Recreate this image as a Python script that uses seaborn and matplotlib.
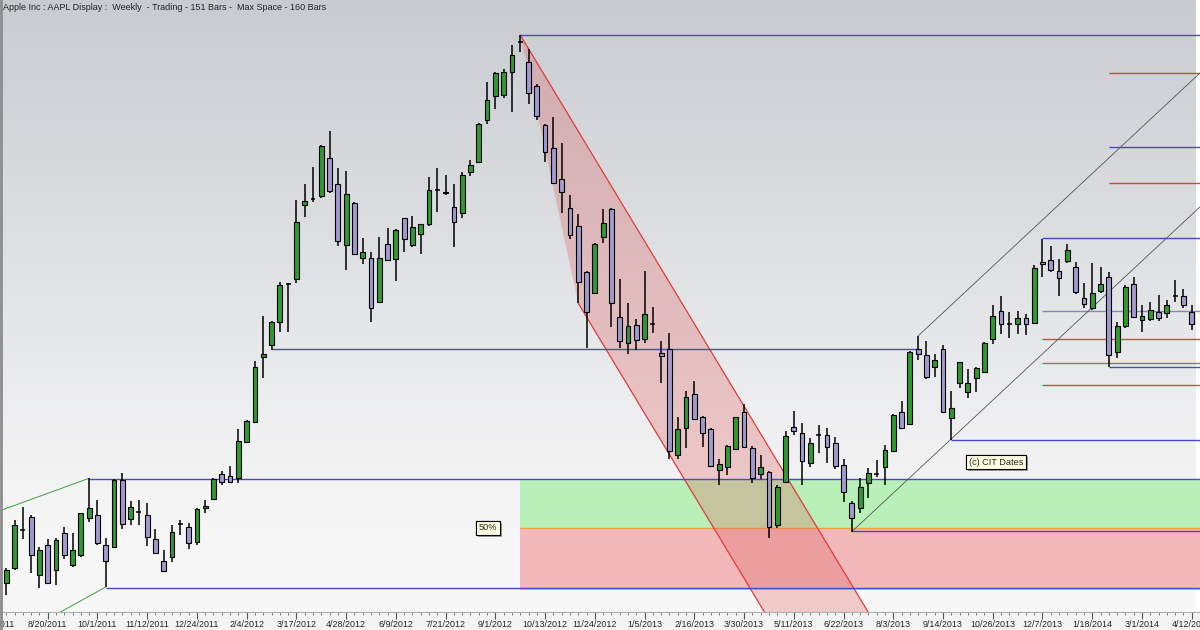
import numpy as np
import pandas as pd
import matplotlib
matplotlib.use("Agg")
import matplotlib.pyplot as plt
import matplotlib.patheffects as pe
import seaborn as sns

title = "Apple Inc : AAPL Display :  Weekly  - Trading - 151 Bars -  Max Space - 160 Bars"
first_week = pd.Timestamp("2011-07-16")

# weekly OHLC (approximate prices)
opens = [357.1, 366.5, 391.4, 399.3, 362.0, 381.2, 365.2, 389.1, 368.4, 374.8,
         398.3, 400.4, 381.2, 380.1, 422.8, 397.6, 402.5, 400.4, 385.0, 371.2,
         373.7, 394.4, 392.5, 383.3, 404.7, 410.6, 426.4, 425.4, 423.9, 447.3,
         459.7, 501.3, 509.2, 523.7, 548.2, 551.2, 598.8, 602.6, 604.8, 628.7,
         612.2, 573.2, 600.3, 564.7, 565.1, 536.9, 573.6, 564.2, 590.3, 573.2,
         580.0, 586.4, 608.4, 607.3, 597.7, 593.5, 620.1, 626.5, 653.2, 668.8,
         669.2, 684.1, 703.8, 690.1, 675.0, 650.0, 635.1, 615.2, 597.1, 585.6,
         556.1, 542.7, 578.5, 596.0, 526.9, 510.7, 522.0, 512.8, 523.1, 504.3,
         506.4, 438.8, 455.9, 477.8, 462.9, 455.2, 429.2, 431.3, 442.8, 466.1,
         443.5, 426.6, 427.9, 394.0, 421.7, 456.9, 453.1, 433.5, 451.6, 451.6,
         446.3, 432.4, 408.3, 404.7, 421.1, 426.6, 431.3, 441.4, 466.1, 458.4,
         506.4, 502.8, 495.3, 506.6, 462.7, 484.7, 478.9, 488.3, 491.7, 513.0,
         531.0, 522.8, 522.4, 526.7, 523.1, 562.1, 563.6, 556.6, 563.0, 559.3,
         539.5, 533.1, 543.8, 552.9, 504.5, 521.4, 548.0, 525.2, 525.8, 530.1,
         529.5, 540.1, 540.8, 530.1]
highs = [366.5, 397.2, 405.7, 400.4, 380.1, 385.0, 385.7, 392.7, 388.9, 401.9,
         423.9, 410.0, 385.7, 423.2, 427.5, 409.6, 410.0, 408.3, 391.4, 378.0,
         394.0, 397.2, 395.5, 405.1, 410.0, 423.9, 428.6, 432.0, 455.2, 461.2,
         499.2, 527.8, 524.6, 549.7, 549.1, 602.0, 612.0, 623.3, 637.2, 646.2,
         622.7, 620.6, 600.5, 577.9, 568.9, 578.5, 583.9, 583.4, 590.7, 592.0,
         586.8, 616.9, 622.3, 618.0, 612.0, 620.1, 627.6, 651.1, 677.7, 683.7,
         685.6, 701.2, 707.6, 698.6, 676.0, 650.4, 655.3, 638.3, 605.2, 592.8,
         556.6, 574.3, 596.0, 596.7, 551.2, 536.3, 525.6, 556.8, 533.3, 512.0,
         516.7, 463.3, 480.0, 486.2, 463.8, 455.9, 436.0, 445.2, 463.3, 471.4,
         444.6, 438.8, 428.6, 419.6, 454.4, 467.2, 459.1, 449.5, 458.0, 455.9,
         450.1, 436.0, 409.6, 424.3, 430.3, 435.6, 445.2, 465.0, 473.4, 505.4,
         515.0, 511.8, 503.2, 509.2, 479.8, 498.5, 493.8, 495.3, 511.3, 534.8,
         540.8, 530.1, 531.0, 528.8, 560.4, 577.0, 572.8, 564.2, 573.6, 562.1,
         548.7, 561.9, 559.3, 556.1, 524.1, 547.6, 552.9, 534.8, 536.5, 541.2,
         538.0, 550.8, 545.0, 534.8]
lows = [349.2, 365.2, 384.8, 363.3, 353.7, 356.2, 355.6, 372.2, 367.3, 373.7,
        396.1, 381.2, 354.3, 379.1, 391.2, 394.0, 394.0, 380.6, 375.4, 364.1,
        370.5, 387.6, 378.4, 381.2, 401.5, 410.0, 419.6, 420.7, 420.7, 446.3,
        459.1, 487.9, 506.0, 517.7, 517.7, 548.7, 591.3, 600.9, 603.1, 606.3,
        572.8, 557.2, 567.2, 560.8, 524.1, 535.9, 563.0, 550.2, 568.9, 572.1,
        567.6, 585.6, 594.5, 605.2, 572.1, 590.3, 617.6, 626.1, 650.4, 660.2,
        667.1, 658.5, 696.5, 663.2, 653.2, 626.1, 612.0, 593.5, 577.0, 535.9,
        507.1, 541.6, 574.3, 520.9, 507.1, 503.4, 506.0, 510.3, 516.7, 484.7,
        436.0, 436.0, 443.1, 461.2, 444.1, 430.9, 419.6, 426.0, 442.0, 443.1,
        420.7, 423.2, 385.5, 392.3, 420.7, 451.6, 419.6, 430.9, 439.9, 433.5,
        429.6, 408.9, 389.7, 401.5, 411.1, 424.9, 419.6, 440.7, 455.4, 458.0,
        499.6, 487.4, 488.9, 466.1, 448.4, 481.5, 475.5, 479.3, 491.1, 509.6,
        516.0, 513.9, 516.0, 515.6, 522.4, 552.9, 555.7, 540.8, 561.5, 541.6,
        533.1, 531.6, 542.3, 495.3, 500.7, 520.3, 526.3, 517.3, 524.6, 524.6,
        526.3, 536.5, 533.1, 518.8]
closes = [365.2, 394.0, 391.0, 374.8, 378.0, 356.9, 384.4, 374.8, 378.0, 401.7,
          405.1, 382.5, 371.2, 422.8, 394.6, 405.7, 402.3, 386.5, 376.1, 364.8,
          389.7, 394.6, 382.3, 404.0, 406.4, 423.2, 421.3, 421.7, 448.0, 460.8,
          495.3, 503.4, 524.1, 547.6, 548.0, 588.1, 601.4, 602.4, 636.8, 608.0,
          575.8, 605.6, 567.6, 568.9, 532.7, 564.7, 563.6, 582.8, 576.8, 584.5,
          586.4, 608.2, 608.2, 606.5, 588.1, 618.0, 624.4, 650.8, 666.2, 683.1,
          683.7, 694.8, 703.4, 670.3, 656.0, 632.9, 612.7, 606.9, 579.6, 549.7,
          530.1, 573.6, 587.5, 535.9, 512.0, 521.4, 512.4, 528.8, 522.9, 502.2,
          441.6, 455.2, 476.1, 461.6, 452.7, 431.8, 433.0, 444.8, 462.9, 444.1,
          424.3, 430.9, 392.5, 418.5, 451.0, 454.4, 435.2, 446.3, 451.4, 443.7,
          431.8, 414.9, 398.3, 418.1, 427.5, 426.8, 442.0, 464.4, 455.9, 504.5,
          503.2, 488.9, 499.6, 466.5, 469.1, 498.1, 484.7, 494.3, 510.7, 528.0,
          522.4, 522.6, 526.7, 522.4, 558.3, 560.8, 557.2, 551.9, 570.0, 542.9,
          535.2, 542.7, 548.0, 502.8, 521.6, 546.5, 527.3, 528.0, 531.6, 526.7,
          534.8, 540.3, 534.8, 522.4]

# horizontal levels drawn on the chart
level_prices = [707.6, 506.6, 423.4, 353.7, 448.4, 390.2, 577.7, 531.0,
                513.0, 497.7, 483.6, 495.1, 683.3, 635.9, 612.9]
level_starts = [62, 32, 10, 12, 114, 102, 125, 125,
                125, 125, 125, 133, 133, 133, 133]
level_ends = [150, 110, 150, 150, 150, 150, 150, 150,
              150, 150, 150, 150, 150, 150, 150]
level_kinds = ["blue", "blue", "blue", "blue", "blue", "blue", "blue", "pale",
               "red", "brown", "red", "blue", "red", "blue", "red"]

# retracement zones
zone_top, zone_mid, zone_bottom, zone_start = 423.4, 392.1, 352.4, 62

# trend channels: slopes in price per bar
down_slope = -8.8
up_slope = 4.95
green_upper_slope, green_lower_slope = 1.93, 2.93

sns.set_theme(style="white")
plt.rcParams["font.family"] = ["Liberation Sans", "DejaVu Sans"]

W, H = 1200, 630
fig = plt.figure(figsize=(12, 6.3), dpi=100, facecolor="#f4f4f4")
ax = fig.add_axes([-10 / W, 18 / H, 1210 / W, 612 / H])

xmin, xmax = -1.96, 143.47
ymin, ymax = 338.3, 730.0
ax.set_xlim(xmin, xmax)
ax.set_ylim(ymin, ymax)

# background gradient
stops = np.array([[0.0, 0.785, 0.8, 0.82],
                  [0.35, 0.86, 0.866, 0.878],
                  [0.7, 0.937, 0.939, 0.944],
                  [0.85, 0.964, 0.964, 0.964],
                  [1.0, 0.972, 0.972, 0.972]])
t = np.linspace(0, 1, 300)
grad = np.stack([np.interp(t, stops[:, 0], stops[:, i]) for i in (1, 2, 3)], axis=1)
ax.imshow(grad[:, None, :], extent=(xmin, xmax, ymin, ymax), aspect="auto", zorder=0)

# zones
ax.fill_between([zone_start, 150], zone_mid, zone_top, color="#b8f0b8", lw=0, zorder=1)
ax.fill_between([zone_start, 150], zone_bottom, zone_mid, color="#f2b8ba", lw=0, zorder=1)
ax.hlines(zone_mid, zone_start, 150, color="#f0a040", lw=1.0, zorder=2)

# downtrend channel from the top
peak = 62
low_anchor = 69
far = 300.0
p0 = (peak, highs[peak])
p1 = (low_anchor, lows[low_anchor])
p2 = (low_anchor + (lows[low_anchor] - far) / -down_slope, far)
p3 = (peak + (highs[peak] - far) / -down_slope, far)
ax.fill([p0[0], p1[0], p2[0], p3[0]], [p0[1], p1[1], p2[1], p3[1]],
        color="#e06060", alpha=0.3, lw=0, zorder=2)
ax.plot([p0[0], p3[0]], [p0[1], p3[1]], color="#e03a3a", lw=0.9, zorder=3)
ax.plot([p1[0], p2[0]], [p1[1], p2[1]], color="#e03a3a", lw=0.9, zorder=3)

# horizontal levels
colors = {"blue": "#4848c8", "red": "#e04040", "brown": "#c06060", "pale": "#8686b8"}
for price, s, e, kind in zip(level_prices, level_starts, level_ends, level_kinds):
    ax.hlines(price, s, e, color=colors[kind], lw=1.0, zorder=3)

# uptrend channel (thin black lines)
xs = np.array([102, 150])
ax.plot(xs, lows[102] + up_slope * (xs - 102), color="#555555", lw=0.6, zorder=3)
xs = np.array([110, 150])
ax.plot(xs, highs[110] + up_slope * (xs - 110), color="#555555", lw=0.6, zorder=3)

# green fan lines at the left
xs = np.array([-5, 10])
ax.plot(xs, highs[10] + green_upper_slope * (xs - 10), color="#40a040", lw=0.7, zorder=3)
xs = np.array([0, 12])
ax.plot(xs, lows[12] + green_lower_slope * (xs - 12), color="#40a040", lw=0.7, zorder=3)

# candles
df = pd.DataFrame({"open": opens, "high": highs, "low": lows, "close": closes})
df["bar"] = np.arange(len(df))
ax.vlines(df["bar"], df["low"], df["high"], color="black", lw=1.1, zorder=5)
body = (df["close"] - df["open"]).abs()
doji = body < 0.6
up = (df["close"] > df["open"]) & ~doji
dn = (df["close"] <= df["open"]) & ~doji
bw = 0.58
for mask, fc in ((up, "#2f9a2f"), (dn, "#a29ace")):
    d = df[mask]
    ax.bar(d["bar"], (d["close"] - d["open"]).abs(), bottom=d[["open", "close"]].min(axis=1),
           width=bw, color=fc, edgecolor="black", lw=0.8, zorder=6)
d = df[doji]
ax.hlines(d["close"], d["bar"] - bw / 2, d["bar"] + bw / 2, color="black", lw=1.1, zorder=6)

# label boxes
for txt, x, y in (("50%", 58.1, zone_mid), ("(c) CIT Dates", 119.4, 434.3)):
    tb = ax.text(x, y, txt, fontsize=6.6, ha="center", va="center", zorder=8,
                 bbox=dict(boxstyle="square,pad=0.3", fc="#ffffe1", ec="black", lw=0.8))
    tb.get_bbox_patch().set_path_effects([pe.withSimplePatchShadow(offset=(1.5, -1.5),
                                                                   shadow_rgbFace="gray", alpha=0.7),
                                          pe.Normal()])

# x axis: minor tick every bar, labels every 6 weeks
major = list(range(-1, 145, 6))
labels = []
for b in major:
    dt = first_week + pd.Timedelta(weeks=b)
    labels.append(f"{dt.month}/{dt.day}/{dt.year}")
ax.set_xticks(major)
ax.set_xticklabels(labels)
ax.set_xticks(np.arange(-1, 145), minor=True)
ax.set_yticks([])
ax.tick_params(axis="x", which="major", length=5, width=0.8, color="#555555",
               labelsize=6.4, pad=1, labelcolor="#222222", bottom=True)
ax.tick_params(axis="x", which="minor", length=2.5, width=0.6, color="#666666", bottom=True)
for side in ("top", "right", "left"):
    ax.spines[side].set_visible(False)
ax.spines["bottom"].set_color("#b0b0b0")
ax.spines["bottom"].set_linewidth(0.8)

fig.text(3 / W, 1 - 7 / H, title, fontsize=6.5, color="#222222", va="center", ha="left")
fig.add_artist(plt.Line2D([1 / W, 1 / W], [0, 1], color="#8c8c8c", lw=2, transform=fig.transFigure))

fig.savefig("out.png", dpi=100, facecolor=fig.get_facecolor())
